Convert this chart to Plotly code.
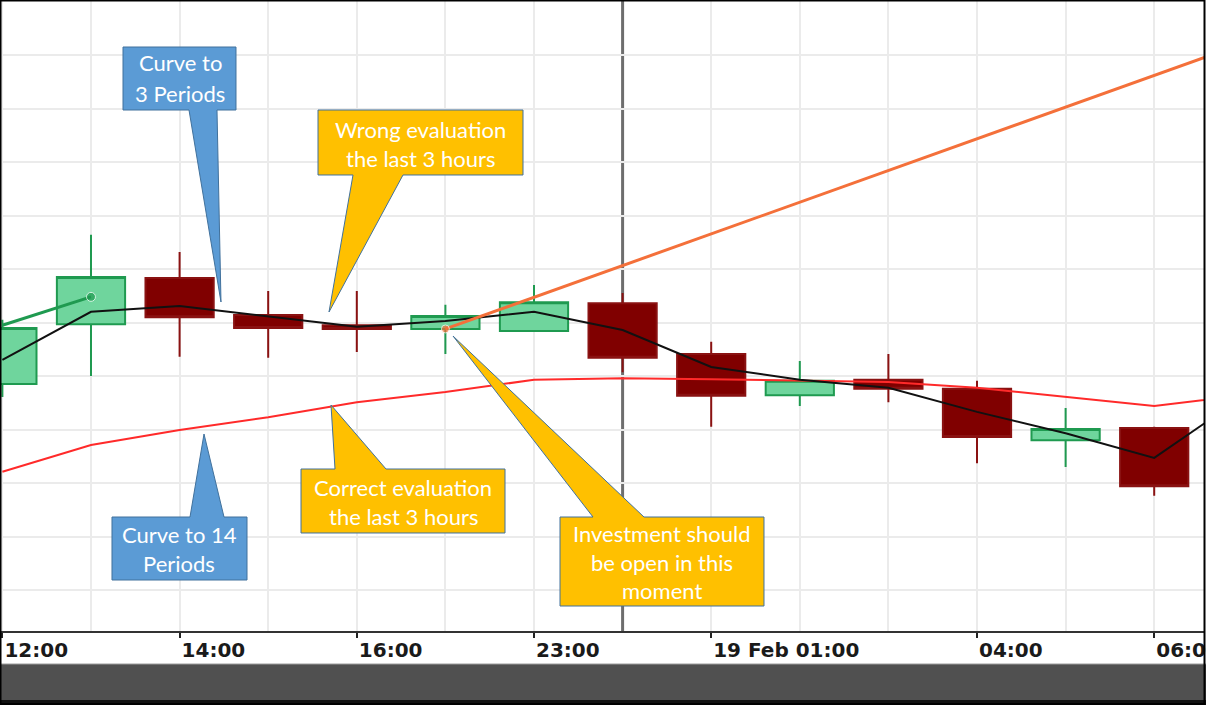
import plotly.graph_objects as go

# ---------------- data ----------------
hours = ["12:00", "13:00", "14:00", "15:00", "16:00", "22:00", "23:00",
         "00:00", "01:00", "02:00", "03:00", "04:00", "05:00", "06:00"]
candle_x = list(range(len(hours)))

open_p = [4.85, 5.97, 6.83, 6.14, 5.95, 5.88, 5.84, 6.36, 5.41, 4.64, 4.93, 4.76, 3.80, 4.03]
high_p = [6.05, 7.64, 7.32, 6.59, 6.59, 6.33, 6.70, 6.55, 5.64, 5.28, 5.41, 4.91, 4.40, 4.05]
low_p = [4.61, 5.00, 5.36, 5.34, 5.45, 5.41, 5.84, 5.07, 4.05, 4.44, 4.51, 3.37, 3.30, 2.76]
close_p = [5.90, 6.85, 6.10, 5.90, 5.88, 6.12, 6.38, 5.34, 4.63, 4.91, 4.76, 3.86, 4.01, 2.94]

ma_x = list(range(15))
ma3 = [5.30, 6.20, 6.31, 6.12, 5.92, 6.03, 6.20, 5.86, 5.17, 4.93, 4.78, 4.33, 3.93, 3.47, 4.61]
ma14 = [3.21, 3.71, 3.99, 4.23, 4.51, 4.70, 4.93, 4.96, 4.94, 4.91, 4.89, 4.78, 4.61, 4.44, 4.64]

trend_x = [5, 14]
trend_y = [5.88, 11.21]
green_x = [0, 1]
green_y = [5.95, 6.48]

crosshair_x = 7
tick_pos = [0, 2, 4, 6, 8, 11, 13]
tick_labels = ["12:00", "14:00", "16:00", "23:00", "19 Feb 01:00", "04:00", "06:00"]
grid_y = list(range(1, 12))

W, H = 1206, 705
ML, MR, MT, MB = 0, 2, 1, 74
PW = W - ML - MR
PH = H - MT - MB


def px(x):
    return (x - ML) / PW


def py(y):
    return (H - MB - y) / PH


fig = go.Figure()

fig.add_trace(go.Scatter(x=ma_x, y=ma14, mode="lines",
                         line=dict(color="#ff2a2a", width=2), hoverinfo="skip"))

fig.add_trace(go.Candlestick(
    x=candle_x, open=open_p, high=high_p, low=low_p, close=close_p,
    increasing=dict(fillcolor="#6fd59d", line=dict(color="#1f9a50", width=2)),
    decreasing=dict(fillcolor="#800000", line=dict(color="#8a1212", width=2)),
    whiskerwidth=0,
))

fig.add_trace(go.Scatter(x=ma_x, y=ma3, mode="lines",
                         line=dict(color="#111111", width=2), hoverinfo="skip"))

fig.add_trace(go.Scatter(x=green_x, y=green_y, mode="lines+markers",
                         line=dict(color="#1f9a50", width=3),
                         marker=dict(size=[0, 9], color="#1f9a50"), hoverinfo="skip"))

fig.add_trace(go.Scatter(x=trend_x, y=trend_y, mode="lines+markers",
                         line=dict(color="#f4703a", width=3),
                         marker=dict(size=[8, 0], color="#f4703a"), hoverinfo="skip"))

shapes = []
# crosshair
shapes.append(dict(type="line", xref="x", yref="paper", x0=crosshair_x, x1=crosshair_x,
                   y0=0, y1=1, line=dict(color="#6e6e6e", width=3), layer="between"))

# bottom bands
shapes.append(dict(type="rect", xref="paper", yref="paper", x0=px(-5), x1=px(W + 5),
                   y0=py(H + 5), y1=py(664), fillcolor="#505050", line=dict(width=0), layer="above"))
shapes.append(dict(type="line", xref="paper", yref="paper", x0=px(0), x1=px(W),
                   y0=py(664), y1=py(664), line=dict(color="#9c9c9c", width=1), layer="above"))
shapes.append(dict(type="rect", xref="paper", yref="paper", x0=px(-5), x1=px(W + 5),
                   y0=py(H + 5), y1=py(700), fillcolor="#111111", line=dict(width=0), layer="above"))
# outer border
shapes.append(dict(type="rect", xref="paper", yref="paper", x0=px(0.5), x1=px(W - 1.5),
                   y0=py(H - 1), y1=py(0.5), line=dict(color="#000000", width=2), layer="above"))


def callout(x0, y0, x1, y1, bl, br, tip, side, fill):
    tx, ty = tip
    if side == "bottom":
        pts = [(x0, y0), (x1, y0), (x1, y1), (br, y1), (tx, ty), (bl, y1), (x0, y1)]
    else:
        pts = [(x0, y0), (bl, y0), (tx, ty), (br, y0), (x1, y0), (x1, y1), (x0, y1)]
    path = "M " + " L ".join(f"{px(a):.5f},{py(b):.5f}" for a, b in pts) + " Z"
    return dict(type="path", xref="paper", yref="paper", path=path, fillcolor=fill,
                line=dict(color="#41719c", width=1), layer="above")


BLUE = "#5b9bd5"
GOLD = "#ffc000"
shapes.append(callout(123, 47, 236, 110, 189, 217, (221, 302), "bottom", BLUE))
shapes.append(callout(318, 110, 523, 175, 353, 403, (329, 312), "bottom", GOLD))
shapes.append(callout(112, 517, 247, 580, 190, 224, (204, 434), "top", BLUE))
shapes.append(callout(301, 469, 505, 533, 335, 386, (331, 405), "top", GOLD))
shapes.append(callout(560, 517, 764, 606, 593, 644, (453, 336), "top", GOLD))

callout_texts = [
    (180, [63, 93], ["Curve to", "3 Periods"]),
    (420, [129, 158], ["Wrong evaluation", "the last 3 hours"]),
    (179, [534, 563], ["Curve to 14", "Periods"]),
    (403, [487, 516], ["Correct evaluation", "the last 3 hours"]),
    (662, [533, 562, 590], ["Investment should", "be open in this", "moment"]),
]
annotations = []
for cx, ys, lines in callout_texts:
    for yy, t in zip(ys, lines):
        annotations.append(dict(xref="paper", yref="paper", x=px(cx), y=py(yy), text=t,
                                showarrow=False, xanchor="center", yanchor="middle",
                                font=dict(family="Lato", size=22, color="#ffffff")))

minor_grid_x = [i for i in candle_x if i != crosshair_x]

fig.update_layout(
    width=W, height=H, autosize=False,
    margin=dict(l=ML, r=MR, t=MT, b=MB, pad=0, autoexpand=False),
    paper_bgcolor="#ffffff", plot_bgcolor="#ffffff",
    showlegend=False,
    boxgap=0.23, boxgroupgap=0,
    shapes=shapes, annotations=annotations,
    xaxis=dict(
        range=[-0.027, 13.562], rangeslider=dict(visible=False), automargin=False,
        tickmode="array", tickvals=tick_pos, ticktext=tick_labels,
        ticks="outside", ticklen=5, tickwidth=2, tickcolor="#222222",
        ticklabelposition="outside right", ticklabeloverflow="allow",
        tickfont=dict(family="DejaVu Sans", size=20, color="#1a1a1a", weight="bold"),
        showgrid=True, gridcolor="#ebebeb", gridwidth=2,
        minor=dict(tickmode="array", tickvals=minor_grid_x, showgrid=True,
                   gridcolor="#ebebeb", gridwidth=2, ticks=""),
        showline=True, linecolor="#333333", linewidth=2,
        zeroline=False, fixedrange=True,
    ),
    yaxis=dict(
        range=[0.234, 12.01], automargin=False,
        tickmode="array", tickvals=grid_y, showticklabels=False,
        showgrid=True, gridcolor="#ebebeb", gridwidth=2, zeroline=False, ticks="",
        showline=False,
    ),
)

fig.write_html(
    "out.html",
    config={"responsive": False, "displayModeBar": False},
    post_script=(
        "document.body.style.margin='0';document.body.style.overflow='hidden';"
        "var gd=document.getElementById('{plot_id}');"
        "Plotly.relayout(gd,{width:1206,height:705});"
    ),
)
